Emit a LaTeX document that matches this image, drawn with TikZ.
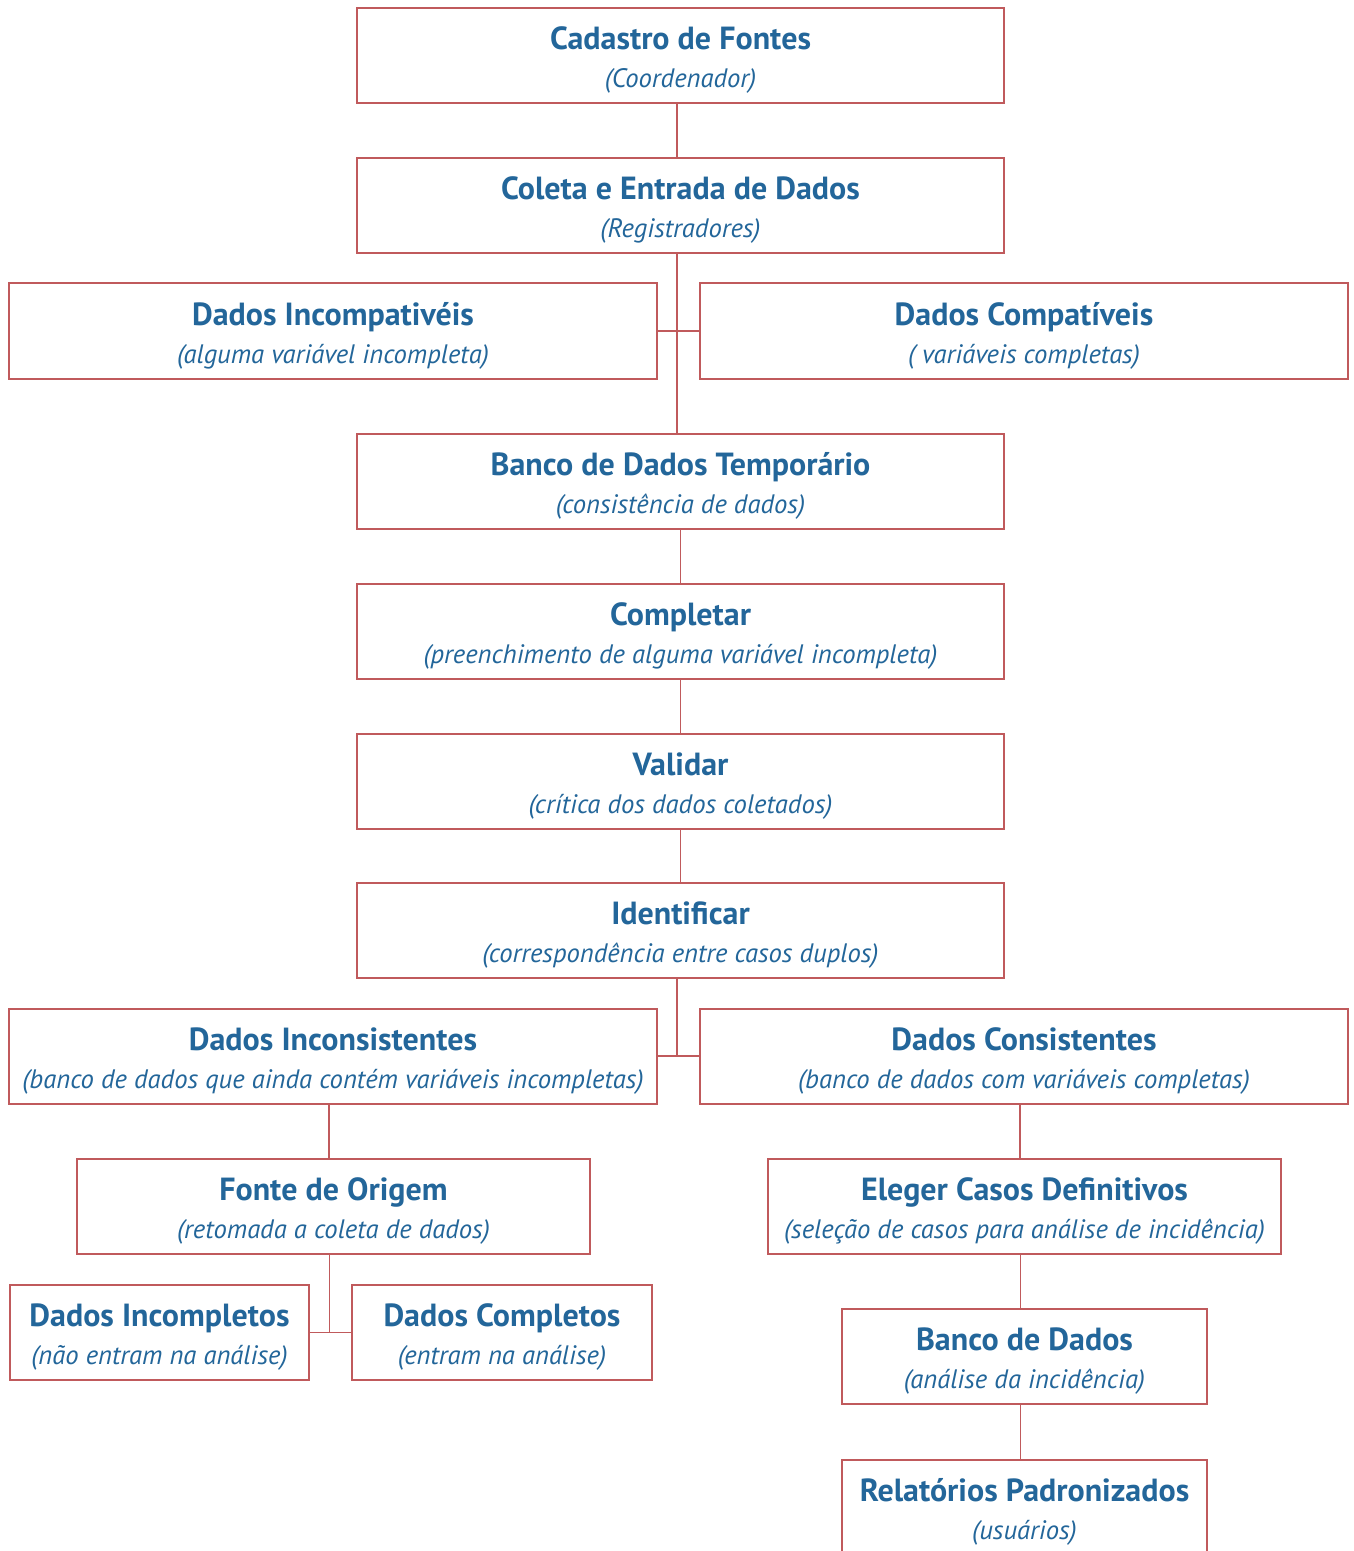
\documentclass[tikz,border=0pt]{standalone}
\usepackage{fontspec}
\setmainfont{PT Sans}
\usepackage{tikz}
\usetikzlibrary{positioning, calc}
\usepackage{xcolor}
\definecolor{fxred}{HTML}{C05A5C}
\definecolor{fxblue}{HTML}{23669A}

\tikzset{
  caixa/.style={draw=fxred, line width=1.5pt, fill=white, text=fxblue,
                minimum height=71.25pt, inner sep=1pt, align=center,
                font=\fontsize{24}{28.5}\selectfont},
  liga/.style={draw=fxred, line width=1.2pt}
}
\newcommand{\caixatxt}[2]{\rule{0pt}{24pt}\textbf{#1}\\{\fontsize{20}{28.5}\selectfont\itshape #2}}

\begin{document}
\begin{tikzpicture}[x=0.75pt, y=-0.75pt]
    \useasboundingbox[fill=white] (0,0) rectangle (1353,1551);
    % tronco central
    \node[caixa, minimum width=485.25pt] (cad) at (680.5,55.5)
          {\caixatxt{Cadastro de Fontes}{(Coordenador)}};
    \node[caixa, minimum width=485.25pt] (col) at (680.5,205.5)
          {\caixatxt{Coleta e Entrada de Dados}{(Registradores)}};
    \node[caixa, minimum width=486pt] (incomp) at (333,331)
          {\caixatxt{Dados Incompativéis}{(alguma variável incompleta)}};
    \node[caixa, minimum width=486pt] (comp) at (1024,331)
          {\caixatxt{Dados Compatíveis}{( variáveis completas)}};
    \node[caixa, minimum width=485.25pt] (temp) at (680.5,481)
          {\caixatxt{Banco de Dados Temporário}{(consistência de dados)}};
    \node[caixa, minimum width=485.25pt] (compl) at (680.5,631)
          {\caixatxt{Completar}{(preenchimento de alguma variável incompleta)}};
    \node[caixa, minimum width=485.25pt] (valid) at (680.5,781)
          {\caixatxt{Validar}{(crítica dos dados coletados)}};
    \node[caixa, minimum width=485.25pt] (ident) at (680.5,930)
          {\caixatxt{Identificar}{(correspondência entre casos duplos)}};
    % ramo esquerdo
    \node[caixa, minimum width=486pt] (incons) at (333,1056)
          {\caixatxt{Dados Inconsistentes}{(banco de dados que ainda contém variáveis incompletas)}};
    \node[caixa, minimum width=384.75pt] (fonte) at (333.5,1206)
          {\caixatxt{Fonte de Origem}{(retomada a coleta de dados)}};
    \node[caixa, minimum width=224.25pt] (incpl) at (159.5,1332.5)
          {\caixatxt{Dados Incompletos}{(não entram na análise)}};
    \node[caixa, minimum width=225pt] (cpl) at (502,1332.5)
          {\caixatxt{Dados Completos}{(entram na análise)}};
    % ramo direito
    \node[caixa, minimum width=486pt] (cons) at (1024,1056)
          {\caixatxt{Dados Consistentes}{(banco de dados com variáveis completas)}};
    \node[caixa, minimum width=384.75pt] (eleg) at (1024.5,1206)
          {\caixatxt{Eleger Casos Definitivos}{(seleção de casos para análise de incidência)}};
    \node[caixa, minimum width=273.75pt] (banco) at (1024.5,1356.5)
          {\caixatxt{Banco de Dados}{(análise da incidência)}};
    \node[caixa, minimum width=273.75pt] (rel) at (1024.5,1507.5)
          {\caixatxt{Relatórios Padronizados}{(usuários)}};
    % ligacoes
    \draw[liga] ([xshift=-2.5pt]cad.south) -- ([xshift=-2.5pt]col.north);
    \draw[liga] ([xshift=-2.5pt]col.south) -- ([xshift=-2.5pt]temp.north);
    \draw[liga] (incomp.east) -- (comp.west);
    \draw[liga] (temp) -- (compl);
    \draw[liga] (compl) -- (valid);
    \draw[liga] (valid) -- (ident);
    \draw[liga] ([xshift=-2.5pt]ident.south) -- ([xshift=-2.5pt]ident.south |- incons.east);
    \draw[liga] (incons.east) -- (cons.west);
    \draw[liga] ([xshift=-3pt]incons.south) -- ([xshift=-3pt]incons.south |- fonte.north);
    \draw[liga] ([xshift=-3pt]fonte.south) -- ([xshift=-3pt]fonte.south |- incpl.east);
    \draw[liga] (incpl.east) -- (cpl.west);
    \draw[liga] ([xshift=-3pt]cons.south) -- ([xshift=-3pt]cons.south |- eleg.north);
    \draw[liga] ([xshift=-3pt]eleg.south) -- ([xshift=-3pt]eleg.south |- banco.north);
    \draw[liga] ([xshift=-3pt]banco.south) -- ([xshift=-3pt]banco.south |- rel.north);
\end{tikzpicture}
\end{document}
